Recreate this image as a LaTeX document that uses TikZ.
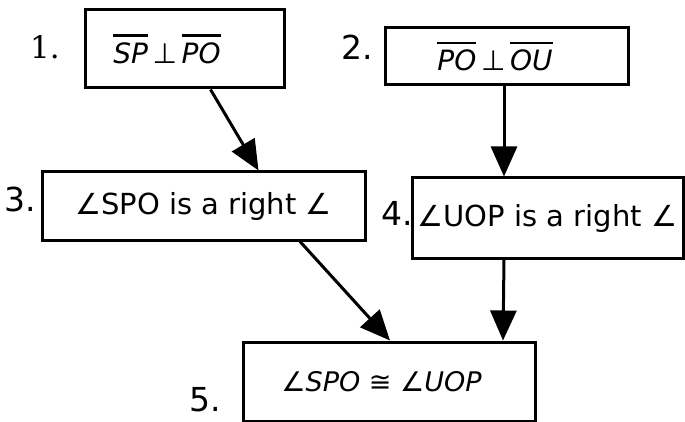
\documentclass[tikz,border=0pt]{standalone}
\usepackage{fontspec}
\setmainfont{DejaVu Sans}
\newfontfamily\numserif{DejaVu Serif}
\usetikzlibrary{arrows.meta,calc}
% segment name with a heavy bar set well above it
\newcommand\segbar[1]{\leavevmode\vbox{\hrule height 2.4pt\kern 6pt\hbox{\itshape #1}}}
% trailing space that survives the node's final \unskip
\newcommand\padright[1]{\hspace{#1}\null}
\begin{document}
\begin{tikzpicture}[x=1pt,y=-1pt,
  stepbox/.style={draw, line width=3pt, rectangle, inner sep=0pt, font=\fontsize{29}{33}\selectfont},
  numlabel/.style={font=\fontsize{33}{37}\selectfont, inner sep=0pt},
  arr/.style={line width=3pt, -{Triangle[length=30pt,width=26pt]}}]
  \useasboundingbox (0,0) rectangle (685,422);
  % statement boxes
  \node[stepbox, minimum width=199pt, minimum height=78pt, font=\fontsize{28}{32}\selectfont] (b1) at (184.5,49)
    {\segbar{SP}\,⊥\,\segbar{PO}\padright{35pt}};
  \node[stepbox, minimum width=243pt, minimum height=57pt, font=\fontsize{28}{32}\selectfont] (b2) at (506.5,56.5)
    {\raisebox{-3pt}{\segbar{PO}\,⊥\,\segbar{OU}}\padright{23pt}};
  \node[stepbox, minimum width=323pt, minimum height=68pt] (b3) at (203.5,206)
    {∠SPO is a right ∠};
  \node[stepbox, minimum width=271pt, minimum height=80pt] (b4) at (547.5,218)
    {∠UOP is a right ∠};
  \node[stepbox, minimum width=292pt, minimum height=79pt, font=\fontsize{27}{31}\selectfont] (b5) at (389,381.5)
    {\itshape ∠SPO ≅ ∠UOP\padright{15pt}};
  % step numbers
  \node[numlabel, font={\numserif\fontsize{31}{35}\selectfont}] (n1) at (45,47) {1.};
  \node[numlabel] (n2) at (357,47) {2.};
  \node[numlabel] (n3) at (20,199) {3.};
  \node[numlabel] (n4) at (397,213) {4.};
  \node[numlabel] (n5) at (205,400) {5.};
  % reasoning arrows
  \draw[arr] ([xshift=26pt]b1.south) -- ([xshift=55pt]b3.north);
  \draw[arr] ([xshift=-2.5pt]b2.south) -- ([xshift=-43.5pt]b4.north);
  \draw[arr] ([xshift=96.5pt]b3.south) -- ([xshift=1pt]b5.north);
  \draw[arr] ([xshift=-43.5pt]b4.south) -- ([xshift=114pt]b5.north);
\end{tikzpicture}
\end{document}
